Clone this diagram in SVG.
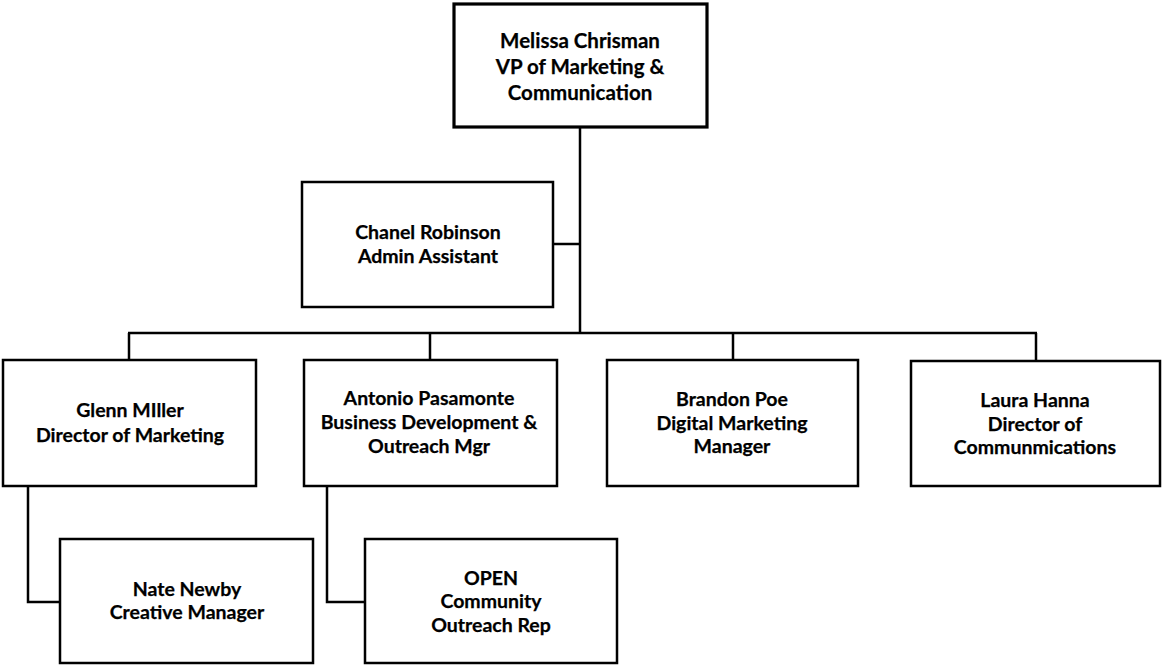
<svg xmlns="http://www.w3.org/2000/svg" width="1163" height="666" viewBox="0 0 1163 666">
  <style>
    .box { fill: #ffffff; stroke: #000000; stroke-width: 2.5; }
    .box.top { stroke-width: 3.2; }
    .wire { fill: none; stroke: #000000; stroke-width: 2.5; }
    text { font-family: "Lato", "Open Sans", sans-serif; font-weight: bold; font-size: 19.5px; fill: #000000; stroke: #000000; stroke-width: 0.25; text-anchor: middle; }
    text.lead { font-size: 20.5px; }
  </style>

  <!-- reporting lines -->
  <g id="connectors">
    <line class="wire" x1="580" y1="127" x2="580" y2="334"/>
    <line class="wire" x1="553" y1="244" x2="580" y2="244"/>
    <line class="wire" x1="128" y1="333" x2="1037" y2="333"/>
    <line class="wire" x1="129" y1="333" x2="129" y2="360"/>
    <line class="wire" x1="430" y1="333" x2="430" y2="360"/>
    <line class="wire" x1="733" y1="333" x2="733" y2="360"/>
    <line class="wire" x1="1036" y1="333" x2="1036" y2="360"/>
    <polyline class="wire" points="28,486 28,602 60,602"/>
    <polyline class="wire" points="327,486 327,602 365,602"/>
  </g>

  <g id="melissa-chrisman">
    <rect class="box top" x="454" y="4" width="253" height="123"/>
    <text class="lead" x="580" y="48">Melissa Chrisman</text>
    <text class="lead" x="580" y="74">VP of Marketing &amp;</text>
    <text class="lead" x="580" y="100">Communication</text>
  </g>

  <g id="chanel-robinson">
    <rect class="box" x="302" y="182" width="251" height="125"/>
    <text x="428" y="239">Chanel Robinson</text>
    <text x="428" y="263">Admin Assistant</text>
  </g>

  <g id="glenn-miller">
    <rect class="box" x="3" y="360" width="253" height="126"/>
    <text x="130" y="417">Glenn MIller</text>
    <text x="130" y="442">Director of Marketing</text>
  </g>

  <g id="antonio-pasamonte">
    <rect class="box" x="304" y="360" width="253" height="126"/>
    <text x="429" y="405">Antonio Pasamonte</text>
    <text x="429" y="429">Business Development &amp;</text>
    <text x="429" y="453">Outreach Mgr</text>
  </g>

  <g id="brandon-poe">
    <rect class="box" x="607" y="360" width="251" height="126"/>
    <text x="732" y="406">Brandon Poe</text>
    <text x="732" y="430">Digital Marketing</text>
    <text x="732" y="453">Manager</text>
  </g>

  <g id="laura-hanna">
    <rect class="box" x="911" y="361" width="249" height="125"/>
    <text x="1035" y="407">Laura Hanna</text>
    <text x="1035" y="431">Director of</text>
    <text x="1035" y="454">Communmications</text>
  </g>

  <g id="nate-newby">
    <rect class="box" x="60" y="539" width="253" height="124"/>
    <text x="187" y="596">Nate Newby</text>
    <text x="187" y="619">Creative Manager</text>
  </g>

  <g id="open-outreach-rep">
    <rect class="box" x="365" y="539" width="252" height="124"/>
    <text x="491" y="585">OPEN</text>
    <text x="491" y="608">Community</text>
    <text x="491" y="632">Outreach Rep</text>
  </g>
</svg>
